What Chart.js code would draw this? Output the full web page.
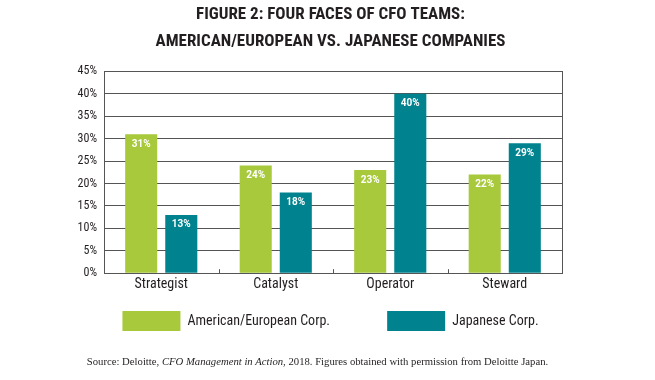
<!DOCTYPE html>
<html>
<head>
<meta charset="utf-8">
<script src="https://cdn.jsdelivr.net/npm/chart.js@4.4.1/dist/chart.umd.min.js"></script>
<style>
  html, body { margin: 0; padding: 0; background: #fff; }
  #wrap { position: relative; width: 655px; height: 380px; }
  #src { position: absolute; left: -10px; width: 655px; top: 355px; line-height: 13px; text-align: center;
         font-family: "Liberation Serif", serif; font-size: 10.7px; color: #231f20; }
</style>
</head>
<body>
<div id="wrap">
  <canvas id="c" width="655" height="380"></canvas>
  <div id="src">Source: Deloitte, <i>CFO Management in Action</i>, 2018. Figures obtained with permission from Deloitte Japan.</div>
</div>
<script>
const categories = ["Strategist", "Catalyst", "Operator", "Steward"];
const seriesNames = ["American/European Corp.", "Japanese Corp."];
const americanEuropean = [31, 24, 23, 22];
const japanese = [13, 18, 40, 29];
const titleLines = ["FIGURE 2: FOUR FACES OF CFO TEAMS:", "AMERICAN/EUROPEAN VS. JAPANESE COMPANIES"];

const GREEN = "#a7c93b";
const TEAL = "#00838e";
const INK = "#231f20";
const COND = "'Roboto Condensed', 'Roboto', sans-serif";

const labelPlugin = {
  id: "barLabels",
  afterDatasetsDraw(chart) {
    const ctx = chart.ctx;
    ctx.save();
    ctx.fillStyle = "#ffffff";
    ctx.font = "bold 10px 'Roboto', sans-serif";
    ctx.textAlign = "center";
    ctx.textBaseline = "middle";
    chart.data.datasets.forEach((ds, di) => {
      const meta = chart.getDatasetMeta(di);
      meta.data.forEach((el, i) => {
        ctx.fillText(ds.data[i] + "%", el.x, el.y + 10);
      });
    });
    ctx.restore();
  }
};

const tickPlugin = {
  id: "innerTicks",
  afterDraw(chart) {
    const ctx = chart.ctx;
    const a = chart.chartArea;
    const xs = chart.scales.x;
    ctx.save();
    ctx.strokeStyle = "#555";
    ctx.lineWidth = 1;
    ctx.beginPath();
    for (let i = 1; i < categories.length; i++) {
      const x = Math.round((xs.getPixelForValue(i - 1) + xs.getPixelForValue(i)) / 2) + 0.5;
      ctx.moveTo(x, a.bottom);
      ctx.lineTo(x, a.bottom - 4);
    }
    ctx.stroke();
    ctx.restore();
  }
};

new Chart(document.getElementById("c"), {
  type: "bar",
  data: {
    labels: categories,
    datasets: [
      { label: seriesNames[0], data: americanEuropean, backgroundColor: GREEN },
      { label: seriesNames[1], data: japanese, backgroundColor: TEAL }
    ]
  },
  options: {
    responsive: false,
    animation: false,
    devicePixelRatio: 1,
    categoryPercentage: 0.7,
    barPercentage: 0.8,
    layout: { padding: { left: 16, right: 10, top: 1, bottom: 39 } },
    plugins: {
      title: {
        display: true,
        text: titleLines,
        color: INK,
        font: { family: COND, size: 17, weight: "bold", lineHeight: 1.6 },
        padding: { top: 0, bottom: 16 }
      },
      legend: {
        position: "bottom",
        labels: {
          boxWidth: 58,
          boxHeight: 20,
          padding: 15,
          color: INK,
          font: { family: COND, size: 14 },
          generateLabels(chart) {
            const items = Chart.defaults.plugins.legend.labels.generateLabels(chart);
            items.forEach((it, i) => {
              it.lineWidth = 0;
              if (i < items.length - 1) it.text = it.text + "\u2003\u2003\u2003\u2009\u2009";
            });
            return items;
          }
        }
      },
      tooltip: { enabled: false }
    },
    scales: {
      x: {
        grid: { display: false, drawTicks: false },
        border: { color: "#555", width: 1 },
        ticks: {
          color: INK,
          padding: 3,
          font: { family: COND, size: 14 }
        }
      },
      y: {
        min: 0,
        max: 45,
        afterFit(s) { s.width = 88; },
        grid: { color: "#555", lineWidth: 1, drawTicks: false },
        border: { color: "#555", width: 1 },
        ticks: {
          stepSize: 5,
          color: INK,
          padding: 7,
          font: { family: COND, size: 12 },
          callback: v => v + "%"
        }
      },
      yRight: {
        position: "right",
        min: 0,
        max: 45,
        afterFit(s) { s.width = 83; },
        grid: { display: false, drawTicks: false },
        border: { display: true, color: "#555", width: 1 },
        ticks: { display: false }
      }
    }
  },
  plugins: [labelPlugin, tickPlugin]
});
</script>
</body>
</html>
